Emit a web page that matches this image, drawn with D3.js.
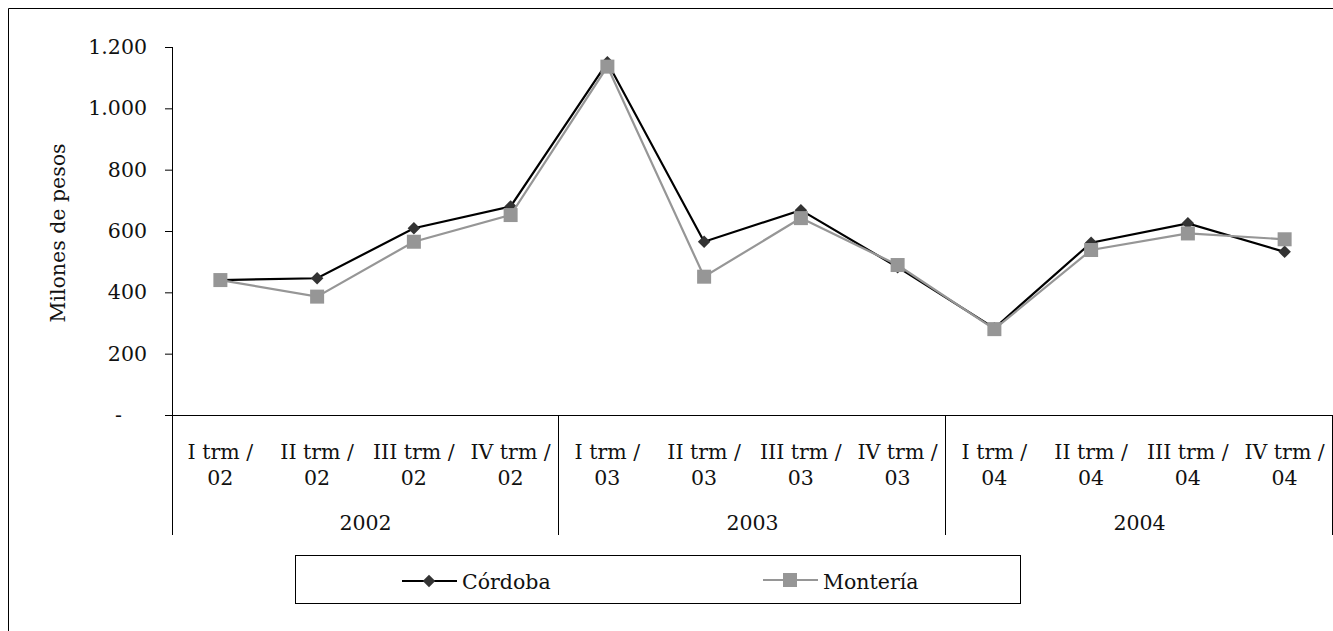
<!DOCTYPE html>
<html><head><meta charset="utf-8">
<script src="https://cdn.jsdelivr.net/npm/d3@7"></script>
<style>
body{margin:0;background:#fff;}
svg text{font-family:"DejaVu Serif",serif;fill:#111;}
</style></head>
<body>
<svg id="c" width="1333" height="631"></svg>
<script>
const quarters = ["I trm /","II trm /","III trm /","IV trm /"];
const years = ["2002","2003","2004"];
const yearShort = ["02","03","04"];
const categories = [];
years.forEach((y,i)=>quarters.forEach(q=>categories.push({q:q, y:yearShort[i], year:y})));
const cordoba = [440,446,609,680,1150,565,668,482,283,562,625,532];
const monteria = [440,386,565,652,1136,451,642,489,280,538,592,573];
const yTicks = [0,200,400,600,800,1000,1200];
const seriesNames = ["Córdoba","Montería"];

const FS = 20.5;
const svg = d3.select("#c");
const L=172, R=1333, T=47, B=415;
const x = d3.scaleBand().domain(d3.range(categories.length)).range([L,R]);
const y = d3.scaleLinear().domain([0,1200]).range([B,T]);
const loc = d3.formatLocale({decimal:",",thousands:".",grouping:[3],currency:["$",""]});
const fmt = loc.format(",.0f");

// outer frame
svg.append("path").attr("d","M8.5,631 V8.5 H1333").attr("fill","none").attr("stroke","#000").attr("stroke-width",1);

// y axis
const ya = svg.append("g").attr("transform",`translate(${L},0)`)
  .call(d3.axisLeft(y).tickValues(yTicks).tickSize(7).tickPadding(18).tickFormat(d=>d===0?"-":fmt(d)));
ya.select(".domain").remove();
ya.selectAll("line").attr("stroke","#000");
ya.selectAll("text").attr("font-size",FS);
ya.selectAll(".tick").filter(d=>d===0).select("text").attr("x",-50);
svg.append("line").attr("x1",L+0.5).attr("x2",L+0.5).attr("y1",T).attr("y2",535).attr("stroke","#000");
// x axis baseline
svg.append("line").attr("x1",L).attr("x2",R).attr("y1",B+0.5).attr("y2",B+0.5).attr("stroke","#000");

// group separators
years.forEach((yr,i)=>{
  const xe = x(i*4+3)+x.bandwidth();
  svg.append("line").attr("x1",Math.round(xe)-0.5).attr("x2",Math.round(xe)-0.5).attr("y1",B).attr("y2",535).attr("stroke","#000");
  const xs = x(i*4);
  svg.append("text").attr("x",(xs+xe)/2).attr("y",530).attr("text-anchor","middle").attr("font-size",FS).text(yr);
});
// category labels
categories.forEach((c,i)=>{
  const cx = x(i)+x.bandwidth()/2;
  svg.append("text").attr("x",cx).attr("y",459).attr("text-anchor","middle").attr("font-size",FS).text(c.q);
  svg.append("text").attr("x",cx).attr("y",485).attr("text-anchor","middle").attr("font-size",FS).text(c.y);
});

// y label
svg.append("text").attr("transform","translate(65,233) rotate(-90)").attr("text-anchor","middle").attr("font-size",FS).text("Milones de pesos");

const line = d3.line().x((d,i)=>x(i)+x.bandwidth()/2).y(d=>y(d));
svg.append("path").datum(cordoba).attr("d",line).attr("fill","none").attr("stroke","#000").attr("stroke-width",2.2);
svg.selectAll(".dc").data(cordoba).enter().append("path")
  .attr("transform",(d,i)=>`translate(${x(i)+x.bandwidth()/2},${y(d)}) rotate(45)`)
  .attr("d",d3.symbol().type(d3.symbolSquare).size(78)).attr("fill","#333");
svg.append("path").datum(monteria).attr("d",line).attr("fill","none").attr("stroke","#969696").attr("stroke-width",2.2);
svg.selectAll(".dm").data(monteria).enter().append("rect")
  .attr("x",(d,i)=>x(i)+x.bandwidth()/2-7).attr("y",d=>y(d)-7).attr("width",14).attr("height",14).attr("fill","#969696");

// legend
svg.append("rect").attr("x",295.5).attr("y",555.5).attr("width",725).attr("height",48).attr("fill","#fff").attr("stroke","#000");
svg.append("line").attr("x1",402).attr("x2",457).attr("y1",581).attr("y2",581).attr("stroke","#000").attr("stroke-width",2.2);
svg.append("path").attr("transform","translate(429,581) rotate(45)").attr("d",d3.symbol().type(d3.symbolSquare).size(78)).attr("fill","#333");
svg.append("text").attr("x",462).attr("y",589).attr("font-size",FS).text(seriesNames[0]);
svg.append("line").attr("x1",763).attr("x2",818).attr("y1",580).attr("y2",580).attr("stroke","#969696").attr("stroke-width",2.2);
svg.append("rect").attr("x",783).attr("y",573).attr("width",14).attr("height",14).attr("fill","#969696");
svg.append("text").attr("x",823).attr("y",589).attr("font-size",FS).text(seriesNames[1]);
</script>
</body></html>
